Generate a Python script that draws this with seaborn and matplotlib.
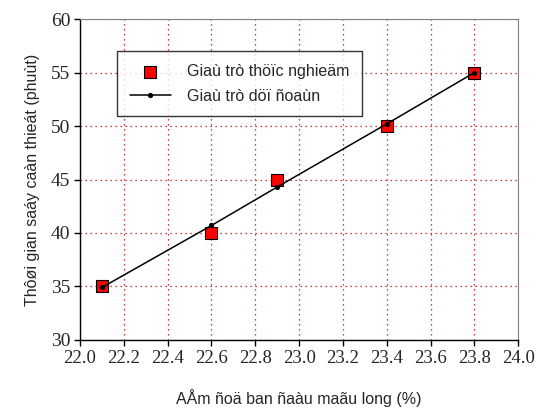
import numpy as np
import pandas as pd
import matplotlib
matplotlib.use("Agg")
import matplotlib.pyplot as plt
import seaborn as sns

# Data
moisture = [22.1, 22.6, 22.9, 23.4, 23.8]
time_exp = [35, 40, 45, 50, 55]
time_pred = [34.9, 40.7, 44.3, 50.2, 55.0]

x_ticks = [22.0, 22.2, 22.4, 22.6, 22.8, 23.0, 23.2, 23.4, 23.6, 23.8, 24.0]
y_ticks = [30, 35, 40, 45, 50, 55, 60]

label_exp = "Giaù trò thöïc nghieäm"
label_pred = "Giaù trò döï ñoaùn"
x_label = "AÅm ñoä ban ñaàu maãu long (%)"
y_label = "Thôøi gian saáy caàn thieát (phuùt)"

df = pd.DataFrame({"x": moisture, "exp": time_exp, "pred": time_pred})

sns.set_theme(style="white")
plt.rcParams["font.family"] = ["Liberation Sans", "DejaVu Sans"]

fig = plt.figure(figsize=(5.37, 4.16), dpi=100)
ax = fig.add_axes([0.149, 0.183, 0.816, 0.771])

sns.scatterplot(data=df, x="x", y="exp", ax=ax, marker="s", s=70, color="red",
                edgecolor="black", linewidth=0.8, label=label_exp, zorder=3)
sns.lineplot(data=df, x="x", y="pred", ax=ax, color="black", linewidth=1.1,
             marker="o", markersize=3, markeredgecolor="black",
             label=label_pred, zorder=4)

ax.set_xlim(22.0, 24.0)
ax.set_ylim(30, 60)
ax.set_xticks(x_ticks)
ax.set_yticks(y_ticks)
ax.set_xticklabels([f"{v:.1f}" for v in x_ticks], family="Liberation Serif", fontsize=13.5)
ax.set_yticklabels([str(v) for v in y_ticks], family="Liberation Serif", fontsize=14)

ax.grid(True, color="#c00000", linestyle=(0, (1, 3)), linewidth=0.9)
ax.tick_params(axis="both", direction="out", length=4, width=1, color="black",
               bottom=True, left=True, pad=3)

for side in ["left", "bottom"]:
    ax.spines[side].set_color("black")
    ax.spines[side].set_linewidth(1)
for side in ["top", "right"]:
    ax.spines[side].set_color("#808080")
    ax.spines[side].set_linewidth(0.8)

ax.set_xlabel(x_label, fontsize=11.5, labelpad=16)
ax.set_ylabel(y_label, fontsize=11.5, labelpad=8)

leg = ax.legend(loc="upper left", bbox_to_anchor=(0.066, 0.925), fontsize=11.5,
                frameon=True, fancybox=False, edgecolor="black",
                borderpad=0.8, labelspacing=0.6, handlelength=2.6, handletextpad=1.0)
leg.get_frame().set_linewidth(1)

fig.savefig("out.png", dpi=100)
